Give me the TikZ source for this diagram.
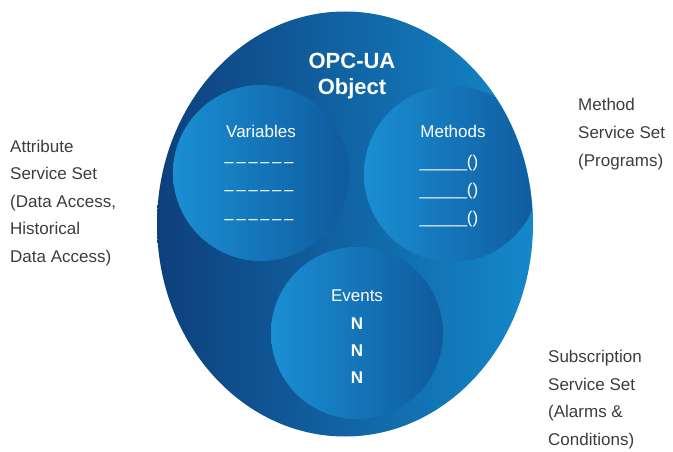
\documentclass[tikz,border=0pt]{standalone}
\usepackage{fontspec}
\setmainfont{Liberation Sans}
\usetikzlibrary{shapes.geometric}
\definecolor{navy}{RGB}{14,63,124}
\definecolor{ocean}{RGB}{20,136,202}
\definecolor{skyblue}{RGB}{26,143,210}
\definecolor{deepblue}{RGB}{15,90,158}
\definecolor{labelgray}{RGB}{60,60,60}

\begin{document}
\begin{tikzpicture}[x=1pt,y=-1pt,
    setlabel/.style={inner sep=0pt,align=left,anchor=base west,text=labelgray,
      font=\fontsize{17}{27.5}\selectfont},
    part/.style={circle,minimum size=176pt,inner sep=0pt,left color=skyblue,right color=deepblue},
    whitetext/.style={text=white,inner sep=0pt,font=\fontsize{17}{20}\selectfont}]
        \useasboundingbox (0,0) rectangle (673,452);

        % object body
        \node[ellipse,minimum width=376pt,minimum height=425pt,inner sep=0pt,
          left color=navy,right color=ocean] (obj) at (345,224) {};
        \node[text=white,inner sep=0pt,align=center,
          font=\bfseries\fontsize{22}{26}\selectfont] (title) at (352,76) {OPC-UA\\Object};

        % the three parts
        \begin{scope}
          \clip (obj.center) ellipse [x radius=187.5pt,y radius=212pt];
          \node[part] (var) at (261,173) {};
          \node[part] (meth) at (452,174) {};
          \node[part,minimum size=172pt] (evt) at (357,333) {};
        \end{scope}

        % variables
        \node[whitetext] (varname) at (261,131) {Variables};
        \foreach \y/\n in {165/1,193/2,222/3}
          \node[whitetext] (var\n) at (259,\y)
            {\textendash\hspace{2.5pt}\textendash\hspace{2.5pt}\textendash\hspace{2.5pt}%
             \textendash\hspace{2.5pt}\textendash\hspace{2.5pt}\textendash};

        % methods
        \node[whitetext] (methname) at (453,131) {Methods};
        \foreach \y/\n in {163/1,191/2,219/3}
          \node[whitetext] (meth\n) at (449,\y) {\_\_\_\_\_()};

        % events
        \node[whitetext] (evtname) at (357,296) {Events};
        \foreach \y/\n in {324/1,351/2,378/3}
          \node[whitetext,font=\bfseries\fontsize{17}{20}\selectfont] (evt\n) at (357,\y) {N};

        % service sets (base = last line)
        \node[setlabel] (attrset) at (10,262)
          {Attribute\\Service Set\\(Data Access,\\Historical\\Data Access)};
        \node[setlabel] (methset) at (578,166) {Method\\Service Set\\(Programs)};
        \node[setlabel] (subset) at (548,445)
          {Subscription\\Service Set\\(Alarms \&\\Conditions)};
\end{tikzpicture}
\end{document}
